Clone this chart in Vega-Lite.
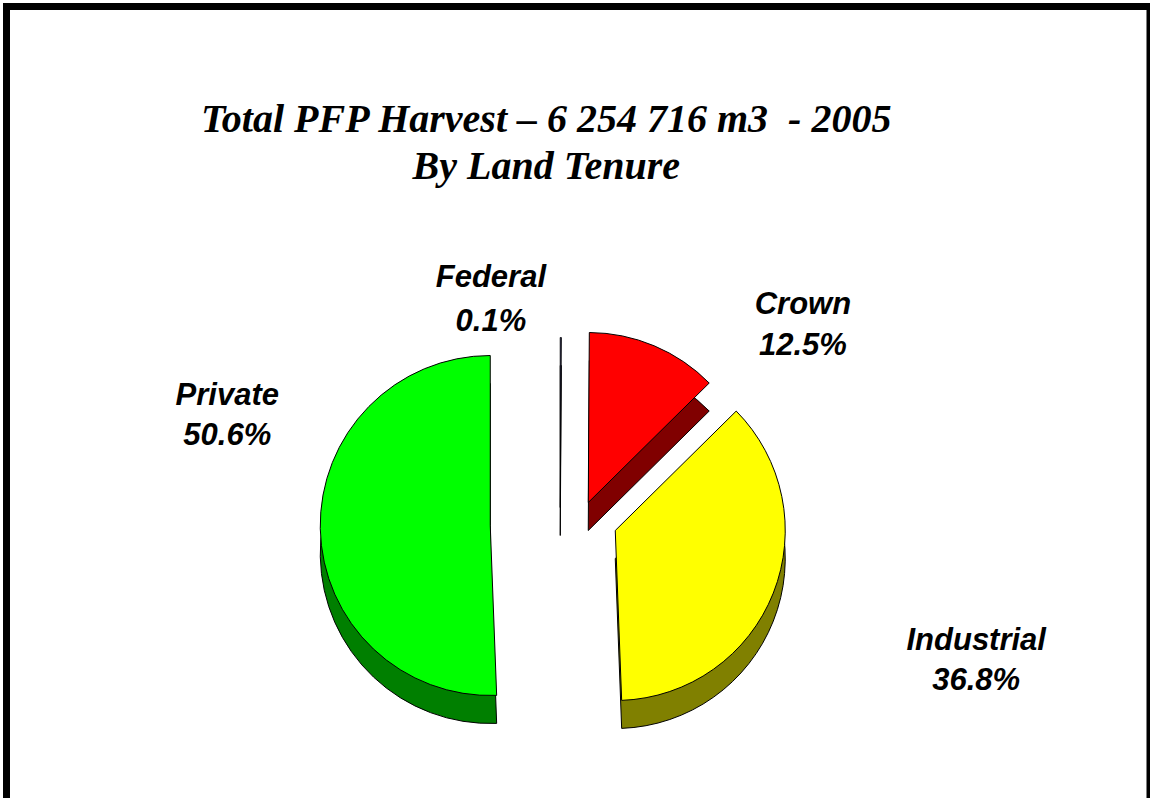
{
  "$schema": "https://vega.github.io/schema/vega-lite/v6.json",
  "width": 1143.5,
  "height": 798,
  "autosize": "none",
  "padding": {"left": 6.5, "top": 6.5, "right": 0, "bottom": -6.5},
  "background": "white",
  "config": {"view": {"stroke": null}},
  "data": {
    "values": [
      {"tenure": "Federal", "pct": 0.1, "order": 1, "label": "Federal\n0.1%"},
      {"tenure": "Crown", "pct": 12.5, "order": 2, "label": "Crown\n12.5%"},
      {"tenure": "Industrial", "pct": 36.8, "order": 3, "label": "Industrial\n36.8%"},
      {"tenure": "Private", "pct": 50.6, "order": 4, "label": "Private\n50.6%"}
    ]
  },
  "layer": [
    {
      "mark": {"type": "arc", "radius": 170, "xOffset": -88, "yOffset": 148, "fill": "#007F00", "stroke": "black", "strokeWidth": 1},
      "encoding": {
        "theta": {"field": "pct", "type": "quantitative", "stack": true},
        "order": {"field": "order", "type": "quantitative"},
        "opacity": {"condition": {"test": "datum.tenure === 'Private'", "value": 1}, "value": 0}
      }
    },
    {
      "mark": {"type": "arc", "radius": 170, "xOffset": -18, "yOffset": 130, "fill": "#4040A0", "stroke": "black", "strokeWidth": 1},
      "encoding": {
        "theta": {"field": "pct", "type": "quantitative", "stack": true},
        "order": {"field": "order", "type": "quantitative"},
        "opacity": {"condition": {"test": "datum.tenure === 'Federal'", "value": 1}, "value": 0}
      }
    },
    {
      "mark": {"type": "arc", "radius": 170, "xOffset": 10, "yOffset": 125, "fill": "#800000", "stroke": "black", "strokeWidth": 1},
      "encoding": {
        "theta": {"field": "pct", "type": "quantitative", "stack": true},
        "order": {"field": "order", "type": "quantitative"},
        "opacity": {"condition": {"test": "datum.tenure === 'Crown'", "value": 1}, "value": 0}
      }
    },
    {
      "mark": {"type": "arc", "radius": 170, "xOffset": 37, "yOffset": 153, "fill": "#808000", "stroke": "black", "strokeWidth": 1},
      "encoding": {
        "theta": {"field": "pct", "type": "quantitative", "stack": true},
        "order": {"field": "order", "type": "quantitative"},
        "opacity": {"condition": {"test": "datum.tenure === 'Industrial'", "value": 1}, "value": 0}
      }
    },
    {
      "mark": {"type": "arc", "radius": 170, "xOffset": -88, "yOffset": 120, "fill": "#00FF00", "stroke": "black", "strokeWidth": 1},
      "encoding": {
        "theta": {"field": "pct", "type": "quantitative", "stack": true},
        "order": {"field": "order", "type": "quantitative"},
        "opacity": {"condition": {"test": "datum.tenure === 'Private'", "value": 1}, "value": 0}
      }
    },
    {
      "mark": {"type": "arc", "radius": 170, "xOffset": -18, "yOffset": 102, "fill": "#9999FF", "stroke": "black", "strokeWidth": 1},
      "encoding": {
        "theta": {"field": "pct", "type": "quantitative", "stack": true},
        "order": {"field": "order", "type": "quantitative"},
        "opacity": {"condition": {"test": "datum.tenure === 'Federal'", "value": 1}, "value": 0}
      }
    },
    {
      "mark": {"type": "arc", "radius": 170, "xOffset": 10, "yOffset": 97, "fill": "#FF0000", "stroke": "black", "strokeWidth": 1},
      "encoding": {
        "theta": {"field": "pct", "type": "quantitative", "stack": true},
        "order": {"field": "order", "type": "quantitative"},
        "opacity": {"condition": {"test": "datum.tenure === 'Crown'", "value": 1}, "value": 0}
      }
    },
    {
      "mark": {"type": "arc", "radius": 170, "xOffset": 37, "yOffset": 125, "fill": "#FFFF00", "stroke": "black", "strokeWidth": 1},
      "encoding": {
        "theta": {"field": "pct", "type": "quantitative", "stack": true},
        "order": {"field": "order", "type": "quantitative"},
        "opacity": {"condition": {"test": "datum.tenure === 'Industrial'", "value": 1}, "value": 0}
      }
    },
    {
      "mark": {"type": "text", "radius": 200, "xOffset": -18, "yOffset": 102, "dx": -70, "dy": -20.5, "align": "center", "baseline": "alphabetic", "lineBreak": "\n", "lineHeight": 44, "font": "Liberation Sans", "fontSize": 31, "fontWeight": "bold", "fontStyle": "italic", "color": "black"},
      "encoding": {
        "theta": {"field": "pct", "type": "quantitative", "stack": true},
        "order": {"field": "order", "type": "quantitative"},
        "text": {"field": "label"},
        "opacity": {"condition": {"test": "datum.tenure === 'Federal'", "value": 1}, "value": 0}
      }
    },
    {
      "mark": {"type": "text", "radius": 200, "xOffset": 10, "yOffset": 97, "dx": 137, "dy": -4, "align": "center", "baseline": "alphabetic", "lineBreak": "\n", "lineHeight": 41, "font": "Liberation Sans", "fontSize": 31, "fontWeight": "bold", "fontStyle": "italic", "color": "black"},
      "encoding": {
        "theta": {"field": "pct", "type": "quantitative", "stack": true},
        "order": {"field": "order", "type": "quantitative"},
        "text": {"field": "label"},
        "opacity": {"condition": {"test": "datum.tenure === 'Crown'", "value": 1}, "value": 0}
      }
    },
    {
      "mark": {"type": "text", "radius": 200, "xOffset": 37, "yOffset": 125, "dx": 175, "dy": 46, "align": "center", "baseline": "alphabetic", "lineBreak": "\n", "lineHeight": 40, "font": "Liberation Sans", "fontSize": 31, "fontWeight": "bold", "fontStyle": "italic", "color": "black"},
      "encoding": {
        "theta": {"field": "pct", "type": "quantitative", "stack": true},
        "order": {"field": "order", "type": "quantitative"},
        "text": {"field": "label"},
        "opacity": {"condition": {"test": "datum.tenure === 'Industrial'", "value": 1}, "value": 0}
      }
    },
    {
      "mark": {"type": "text", "radius": 200, "xOffset": -88, "yOffset": 120, "dx": -63, "dy": -124, "align": "center", "baseline": "alphabetic", "lineBreak": "\n", "lineHeight": 40, "font": "Liberation Sans", "fontSize": 31, "fontWeight": "bold", "fontStyle": "italic", "color": "black"},
      "encoding": {
        "theta": {"field": "pct", "type": "quantitative", "stack": true},
        "order": {"field": "order", "type": "quantitative"},
        "text": {"field": "label"},
        "opacity": {"condition": {"test": "datum.tenure === 'Private'", "value": 1}, "value": 0}
      }
    },
    {
      "data": {"values": [{"title": "Total PFP Harvest – 6 254 716 m3\u00a0 - 2005\nBy Land Tenure"}]},
      "mark": {"type": "text", "xOffset": -32, "yOffset": -273.5, "align": "center", "baseline": "alphabetic", "lineBreak": "\n", "lineHeight": 47, "font": "Liberation Serif", "fontSize": 40, "fontWeight": "bold", "fontStyle": "italic", "color": "black"},
      "encoding": {"text": {"field": "title"}}
    },
    {
      "data": {"values": [{"frame": "border"}]},
      "mark": {"type": "rect", "fill": "white", "fillOpacity": 0, "stroke": "black", "strokeWidth": 7},
      "encoding": {}
    }
  ]
}
